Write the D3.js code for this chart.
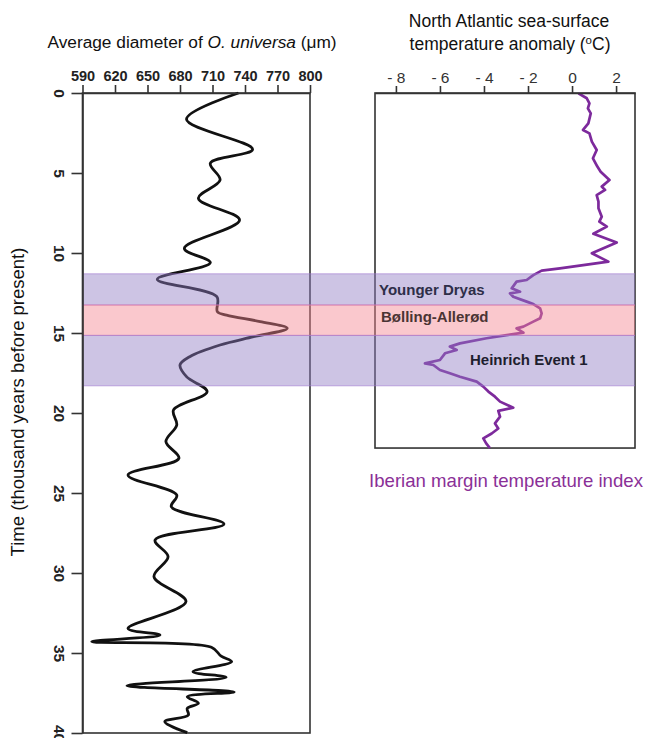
<!DOCTYPE html>
<html><head><meta charset="utf-8">
<script src="https://cdn.jsdelivr.net/npm/d3@7"></script>
<style>
body{margin:0;background:#fff;}
svg{display:block;font-family:"Liberation Sans",Arial,sans-serif;}
</style></head>
<body>
<svg id="chart" width="645" height="738"></svg>
<script>
// ---- data ----
const sizeTime = [0,1.64,3.52,4.39,5.44,6.58,7.94,9.71,10.6,11.64,12.73,13.67,13.88,14.29,14.71,15.23,15.75,16.48,17.0,17.73,18.67,19.81,20.75,21.79,22.83,23.88,25.13,25.86,26.94,27.94,28.98,30.23,31.79,33.46,33.88,34.29,34.64,35.2,35.54,36.17,36.52,37.04,37.44,37.73,38.14,38.46,38.88,39.29,39.98];
const sizeValue = [734,686,747,708,717,697,735,684,708,659,714,714.5,723,754,779,748,717,689,680,686,705,674,677,667,679,632,677,672,720.6,657,669,656,685.5,632,661.5,598.5,709,718,727.7,692,722.5,631,730,686.7,697,686.7,687.7,666,686.7];

const sstTime = [0.02,0.33,0.65,0.96,1.27,1.9,2.31,2.52,3.04,3.56,4.08,4.6,4.92,5.44,5.85,6.06,6.38,6.79,7.21,7.73,8.04,8.35,8.8,9.35,10.02,10.54,10.96,11.1,11.38,11.69,11.79,12.21,12.42,12.52,12.73,13.04,13.19,13.46,13.77,14.08,14.29,14.6,14.71,14.98,15.13,15.33,15.65,15.85,16.06,16.27,16.69,16.9,17.0,17.31,17.52,17.73,18.04,18.35,18.66,18.98,19.29,19.67,19.87,20.23,20.65,20.97,21.28,21.59,21.9,22.19];
const sstValue = [0.29,0.67,0.79,0.72,0.85,0.74,0.5,0.79,0.9,1.12,0.95,1.15,1.3,1.7,1.35,1.5,1.12,1.2,1.2,1.35,1.24,1.58,0.97,2.03,0.9,1.65,-0.55,-1.38,-1.76,-2.06,-2.52,-2.74,-2.36,-2.82,-2.67,-2.06,-1.76,-1.45,-1.38,-1.45,-1.76,-2.21,-2.52,-2.21,-2.97,-3.88,-5.09,-5.55,-5.24,-5.77,-6.0,-6.68,-6.3,-6.0,-5.55,-5.09,-4.33,-4.03,-3.8,-3.5,-3.27,-2.67,-3.35,-3.27,-3.5,-3.35,-3.65,-4.03,-3.9,-3.73];

const bandNames = ["Younger Dryas","Bølling-Allerød","Heinrich Event 1"];
const bandStart = [11.3,13.25,15.15];
const bandEnd = [13.25,15.15,18.3];

const sizeTicks = [590,620,650,680,710,740,770,800];
const sstTicks = [-8,-6,-4,-2,0,2];
const timeTicks = [0,5,10,15,20,25,30,35,40];

// ---- layout ----
const svg = d3.select("#chart");
const y = d3.scaleLinear().domain([0,40]).range([93,733]);
const xL = d3.scaleLinear().domain([590,800]).range([82.5,310]);
const xR = d3.scaleLinear().domain([-8.95,2.86]).range([375,635]);
const rightBottomT = 22.19;
const frameColor = "#333";
const FF = "'Liberation Sans',Arial,sans-serif";

// frames
svg.append("rect").attr("x",xL(590)).attr("y",y(0)).attr("width",xL(800)-xL(590)).attr("height",y(40)-y(0))
  .attr("fill","none").attr("stroke",frameColor).attr("stroke-width",1.6);
svg.append("rect").attr("x",xR.range()[0]).attr("y",y(0)).attr("width",xR.range()[1]-xR.range()[0]).attr("height",y(rightBottomT)-y(0))
  .attr("fill","none").attr("stroke",frameColor).attr("stroke-width",1.6);

// lines
const lineL = d3.line().x((d,i)=>xL(sizeValue[i])).y((d,i)=>y(sizeTime[i])).curve(d3.curveCatmullRom.alpha(0.5));
svg.append("path").attr("d",lineL(sizeTime)).attr("fill","none").attr("stroke","#111").attr("stroke-width",2.8).attr("stroke-linejoin","round");
const lineR = d3.line().x((d,i)=>xR(sstValue[i])).y((d,i)=>y(sstTime[i])).curve(d3.curveLinear);
svg.append("path").attr("d",lineR(sstTime)).attr("fill","none").attr("stroke","#7d2a9c").attr("stroke-width",2.7).attr("stroke-linejoin","round");

// bands
const bandFill = ["rgba(144,124,195,0.45)","rgba(244,133,144,0.45)","rgba(144,124,195,0.45)"];
const bandEdge = ["rgba(160,120,210,0.6)","rgba(225,110,160,0.6)","rgba(160,120,210,0.6)"];
bandNames.forEach((n,i)=>{
  svg.append("rect").attr("x",xL(590)).attr("y",y(bandStart[i])).attr("width",xR.range()[1]-xL(590))
    .attr("height",y(bandEnd[i])-y(bandStart[i])).attr("fill",bandFill[i]);
  [bandStart[i],bandEnd[i]].forEach(t=>{
    svg.append("line").attr("x1",xL(590)).attr("x2",xR.range()[1]).attr("y1",y(t)).attr("y2",y(t))
      .attr("stroke",bandEdge[i]).attr("stroke-width",1);
  });
});
// band labels
const labelX = [379,381,470];
const labelY = [290,317,360];
const labelCol = ["#2e2e48","#4a3434","#1e1e2e"];
bandNames.forEach((n,i)=>{
  svg.append("text").attr("x",labelX[i]).attr("y",labelY[i]).attr("dy","0.35em")
    .attr("font-size",15).attr("font-weight","bold").attr("fill",labelCol[i]).text(n);
});

// axes
const axL = svg.append("g").attr("transform",`translate(0,${y(0)})`)
  .call(d3.axisTop(xL).tickValues(sizeTicks).tickSizeInner(8).tickSizeOuter(0).tickPadding(4));
axL.select(".domain").attr("stroke",frameColor).attr("stroke-width",1.6);
axL.selectAll(".tick line").attr("stroke",frameColor).attr("stroke-width",1.6);
axL.selectAll(".tick text").attr("font-size",14.5).attr("font-weight","bold").attr("fill","#222")
  .attr("font-family",FF);

const axR = svg.append("g").attr("transform",`translate(0,${y(0)})`)
  .call(d3.axisTop(xR).tickValues(sstTicks).tickSizeInner(7).tickSizeOuter(0).tickPadding(3)
    .tickFormat(d=> d<0 ? "- "+Math.abs(d) : String(d)));
axR.select(".domain").attr("stroke",frameColor).attr("stroke-width",1.6);
axR.selectAll(".tick line").attr("stroke",frameColor).attr("stroke-width",1.6);
axR.selectAll(".tick text").attr("font-size",15.5).attr("fill","#333")
  .attr("font-family",FF);

const axY = svg.append("g").attr("transform",`translate(${xL(590)},0)`)
  .call(d3.axisLeft(y).tickValues(timeTicks).tickSizeInner(11).tickSizeOuter(0));
axY.select(".domain").attr("stroke",frameColor).attr("stroke-width",1.6);
axY.selectAll(".tick line").attr("stroke",frameColor).attr("stroke-width",1.6);
axY.selectAll(".tick text").attr("x",null).attr("dy",null)
  .attr("transform","translate(-23,0) rotate(90)").attr("text-anchor","middle").attr("dominant-baseline","central")
  .attr("font-size",15.5).attr("font-weight","bold").attr("fill","#222")
  .attr("font-family",FF);

// titles
const t1 = svg.append("text").attr("x",192).attr("y",48).attr("text-anchor","middle").attr("font-size",17.3).attr("fill","#111");
t1.append("tspan").text("Average diameter of ");
t1.append("tspan").attr("font-style","italic").text("O. universa");
t1.append("tspan").text(" (μm)");

svg.append("text").attr("x",509).attr("y",27).attr("text-anchor","middle").attr("font-size",17.5).attr("fill","#111")
  .text("North Atlantic sea-surface");
const t2 = svg.append("text").attr("x",510).attr("y",50).attr("text-anchor","middle").attr("font-size",17.5).attr("fill","#111");
t2.append("tspan").text("temperature anomaly (");
t2.append("tspan").attr("font-size",11.5).attr("dy",-6.5).text("o");
t2.append("tspan").attr("dy",6.5).text("C)");

svg.append("text").attr("transform",`translate(24,${(242+562)/2}) rotate(-90)`).attr("text-anchor","middle")
  .attr("font-size",18.5).attr("fill","#111").text("Time (thousand years before present)");

svg.append("text").attr("x",506).attr("y",487).attr("text-anchor","middle").attr("font-size",18.6).attr("fill","#8a3097")
  .text("Iberian margin temperature index");
</script>
</body></html>
